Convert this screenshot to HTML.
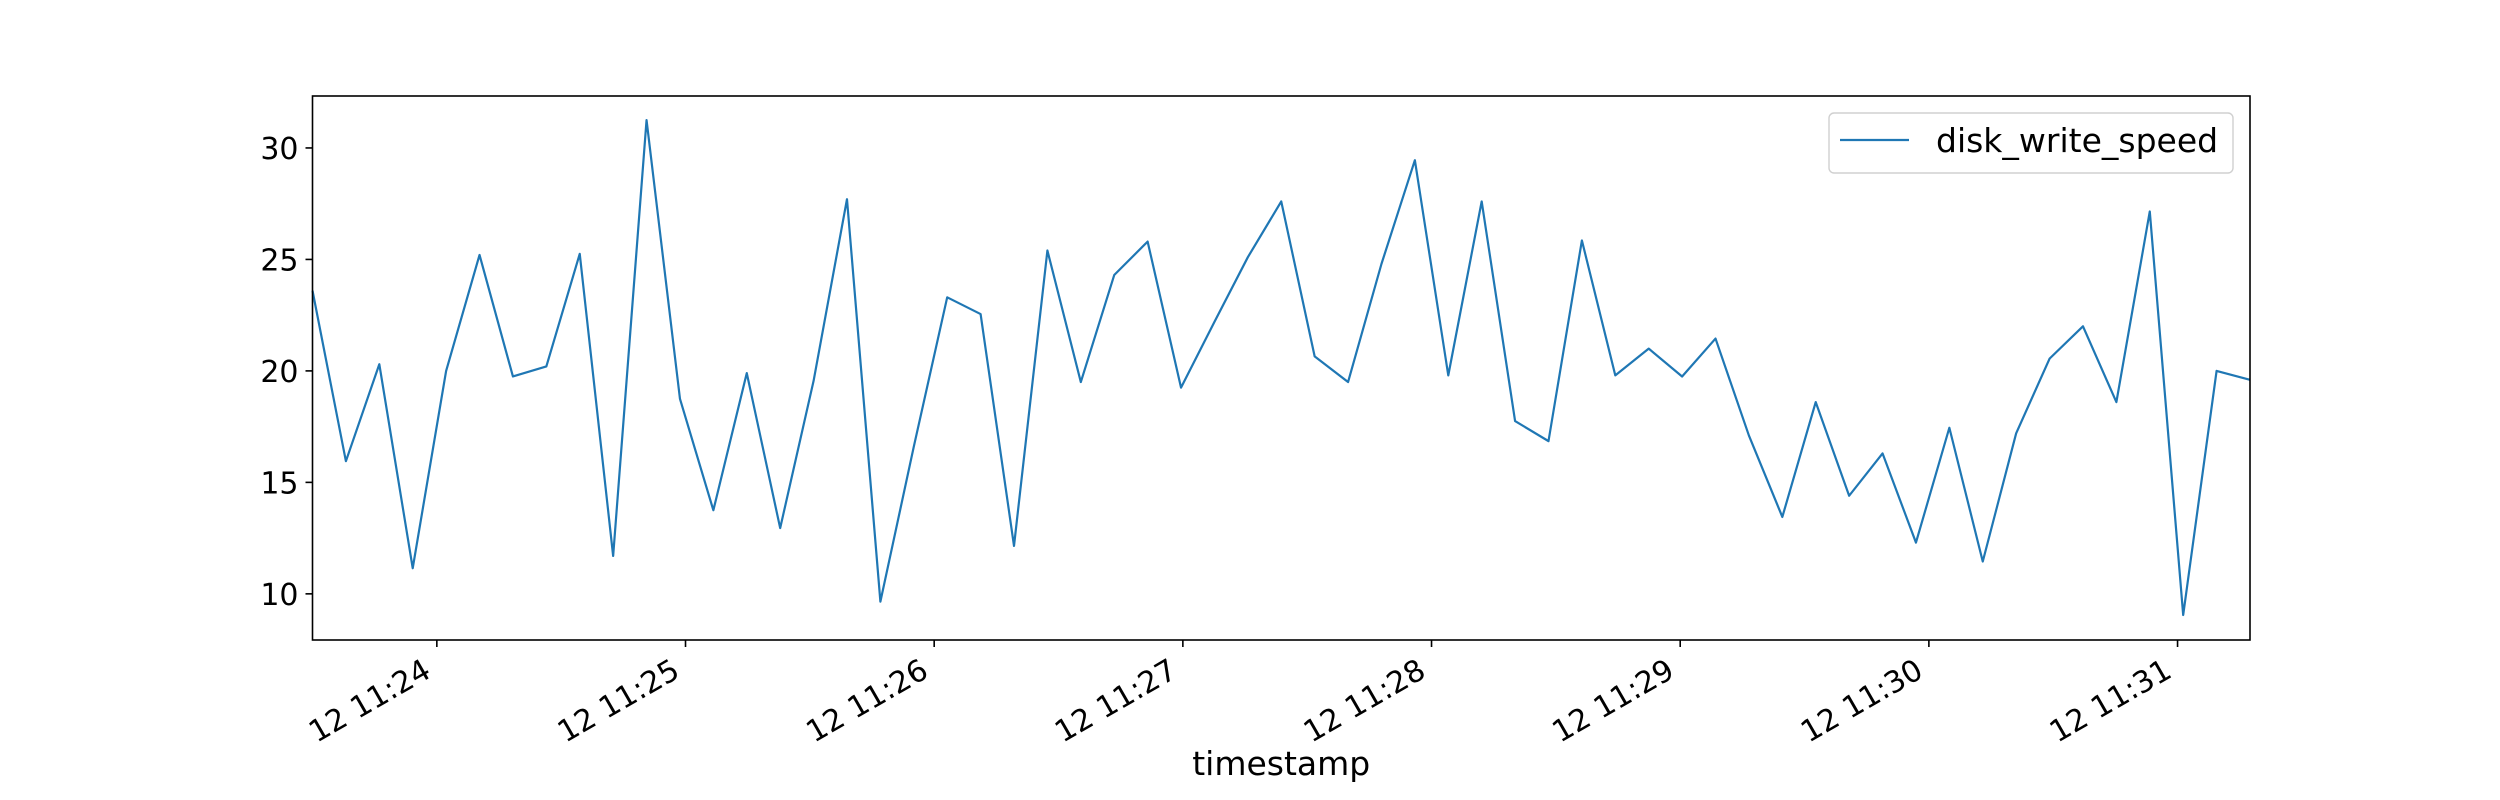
<!DOCTYPE html>
<html><head><meta charset="utf-8"><style>
html,body{margin:0;padding:0;background:#fff;}
svg{display:block;font-family:"DejaVu Sans","Liberation Sans",sans-serif;}
</style></head><body>
<svg id="chart" width="2500" height="800" viewBox="0 0 2500 800" xmlns="http://www.w3.org/2000/svg">
<rect width="2500" height="800" fill="#fff"/>
<g id="plot"></g>
</svg>
<script>
const yValues = [23.6,15.95,20.3,11.15,20.0,25.2,19.75,20.2,25.25,11.7,31.25,18.75,13.75,19.9,12.95,19.55,27.7,9.65,16.6,23.3,22.55,12.15,25.4,19.5,24.3,25.8,19.25,22.2,25.1,27.6,20.65,19.5,24.8,29.45,19.8,27.6,17.75,16.85,25.85,19.8,21.0,19.75,21.45,17.1,13.45,18.6,14.4,16.3,12.3,17.45,11.45,17.2,20.55,22.0,18.6,27.15,9.05,20.0,19.6];
const yTicks = [10,15,20,25,30];
const xTickLabels = ["12 11:24","12 11:25","12 11:26","12 11:27","12 11:28","12 11:29","12 11:30","12 11:31"];
const xTickSeconds = [30,90,150,210,270,330,390,450];
const stepSeconds = 8.06;

const L=312.5,R=2250,T=96,B=640;
const yMin=7.93,yMax=32.33;
const xMax=(yValues.length-1)*stepSeconds;
function xs(t){return L+(t/xMax)*(R-L);}
function ys(v){return B-(v-yMin)/(yMax-yMin)*(B-T);}
const NS="http://www.w3.org/2000/svg";
const g=document.getElementById('plot');
function mk(tag,attrs){const e=document.createElementNS(NS,tag);for(const k in attrs)e.setAttribute(k,attrs[k]);g.appendChild(e);return e;}

// series
let d=yValues.map((v,i)=>(i?'L':'M')+xs(i*stepSeconds).toFixed(2)+','+ys(v).toFixed(2)).join(' ');
const line=mk('path',{d:d,fill:'none',stroke:'#1f77b4','stroke-width':2.2,'stroke-linejoin':'round'});



// axes frame
const frame=mk('rect',{x:L,y:T,width:R-L,height:B-T,fill:'none',stroke:'#000','stroke-width':1.6});



// y ticks
yTicks.forEach(v=>{
  const y=ys(v);
  const tk=mk('line',{x1:L-7,x2:L,y1:y,y2:y,stroke:'#000','stroke-width':1.6});
  
  
  const tx=mk('text',{x:L-14,y:y+11,'text-anchor':'end','font-size':30,fill:'#000'});
  tx.textContent=v;
  
  
});

// x ticks
xTickSeconds.forEach((s,i)=>{
  const x=xs(s);
  const tk=mk('line',{x1:x,x2:x,y1:B,y2:B+7,stroke:'#000','stroke-width':1.6});
  
  
  const tx=mk('text',{x:0,y:0,'text-anchor':'end','font-size':30,fill:'#000',transform:'translate('+(x-4)+','+(B+36)+') rotate(-30)'});
  tx.textContent=xTickLabels[i];
  
  
});

// x-axis title
const xt=mk('text',{x:(L+R)/2,y:775,'text-anchor':'middle','font-size':33,fill:'#000'});
xt.textContent='timestamp';



// legend
const lg=mk('rect',{x:1829,y:113,width:404,height:60,rx:5,fill:'#fff','fill-opacity':0.8,stroke:'#d0d0d0','stroke-width':1.4});


const ll=mk('line',{x1:1840,x2:1909,y1:140,y2:140,stroke:'#1f77b4','stroke-width':2.2});


const lt=mk('text',{x:1936,y:152,'font-size':33,fill:'#000'});
lt.textContent='disk_write_speed';


</script>
</body></html>
